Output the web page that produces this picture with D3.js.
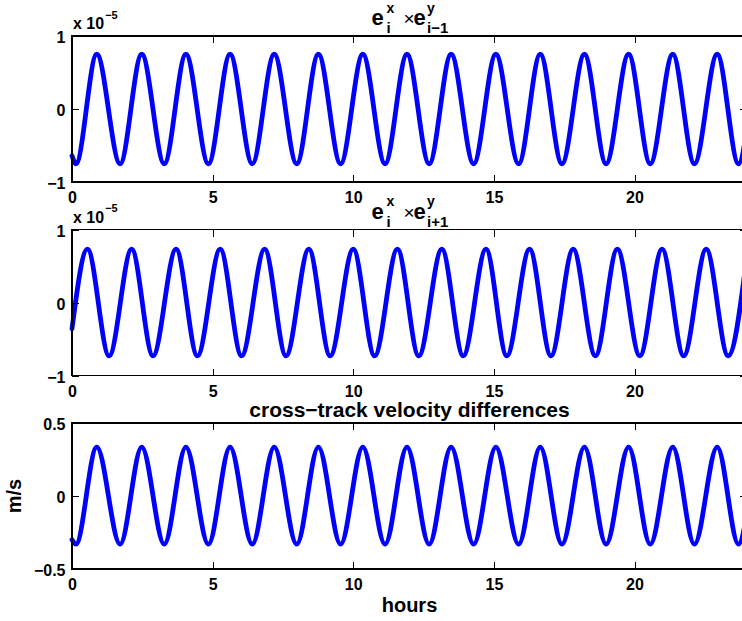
<!DOCTYPE html>
<html>
<head>
<meta charset="utf-8">
<script src="https://cdn.jsdelivr.net/npm/d3@7"></script>
<style>
  body { margin: 0; background: #fff; }
  svg text { font-family: "Liberation Sans", Arial, Helvetica, sans-serif; font-weight: bold; fill: #000; }
</style>
</head>
<body>
<svg id="fig" width="742" height="621"></svg>
<script>
// Turning points (troughs / peaks) of each signal, in hours, with the start and end of the day
const turnTimesA = [0, 0.14, 0.88, 1.71, 2.48, 3.28, 4.05, 4.85, 5.62, 6.41, 7.19, 7.99, 8.76,
  9.55, 10.34, 11.13, 11.91, 12.70, 13.48, 14.28, 15.07, 15.88, 16.65, 17.42, 18.22, 18.99,
  19.79, 20.56, 21.36, 22.13, 22.94, 23.70, 24];
const turnTimesB = [0, 0.55, 1.32, 2.12, 2.88, 3.70, 4.46, 5.27, 6.03, 6.85, 7.61, 8.42, 9.18,
  10.00, 10.76, 11.57, 12.33, 13.15, 13.91, 14.72, 15.46, 16.27, 17.03, 17.82, 18.61, 19.39,
  20.19, 20.98, 21.75, 22.55, 23.33, 24];

// e_i^x x e_{i-1}^y  (units of 1e-5)
const crossPrev = [-0.64, -0.75, 0.75, -0.75, 0.75, -0.75, 0.75, -0.75, 0.75, -0.75, 0.75, -0.75, 0.75,
  -0.75, 0.75, -0.75, 0.75, -0.75, 0.75, -0.75, 0.75, -0.75, 0.75, -0.75, 0.75, -0.75,
  0.75, -0.75, 0.75, -0.75, 0.75, -0.75, -0.27];
// e_i^x x e_{i+1}^y  (units of 1e-5)
const crossNext = [-0.36, 0.73, -0.73, 0.73, -0.73, 0.73, -0.73, 0.73, -0.73, 0.73, -0.73, 0.73, -0.73,
  0.73, -0.73, 0.73, -0.73, 0.73, -0.73, 0.73, -0.73, 0.73, -0.73, 0.73, -0.73, 0.73,
  -0.73, 0.73, -0.73, 0.73, -0.73, 0.65];
// cross-track velocity differences (m/s)
const velDiff = [-0.30, -0.33, 0.335, -0.33, 0.335, -0.33, 0.335, -0.33, 0.335, -0.33, 0.335, -0.33, 0.335,
  -0.33, 0.335, -0.33, 0.335, -0.33, 0.335, -0.33, 0.335, -0.33, 0.335, -0.33, 0.335, -0.33,
  0.335, -0.33, 0.335, -0.33, 0.335, -0.33, -0.12];

const xDomain = [0, 24];
const xTicks = [0, 5, 10, 15, 20];
const yTicksUnit = [-1, 0, 1];
const yTicksVel = [-0.5, 0, 0.5];

const svg = d3.select("#fig");
const left = 72, right = 747, plotH = 146;
const tops = [36, 229.5, 423];
const tickLen = 7;

const x = d3.scaleLinear().domain(xDomain).range([left, right]);
const fmt = d => d3.format("")(d);

const panels = [
  { times: turnTimesA, values: crossPrev, domain: [-1, 1], ticks: yTicksUnit, title: "i\u22121", exp: true },
  { times: turnTimesB, values: crossNext, domain: [-1, 1], ticks: yTicksUnit, title: "i+1", exp: true },
  { times: turnTimesA, values: velDiff, domain: [-0.5, 0.5], ticks: yTicksVel, title: null, exp: false }
];

function drawEqTitle(g, cx, base, sub) {
  const t = g.append("text");
  t.append("tspan").attr("x", cx - 38).attr("y", base).style("font-size", "22px").text("e");
  t.append("tspan").attr("x", cx - 23).attr("y", base - 12.5).style("font-size", "14px").text("x");
  t.append("tspan").attr("x", cx - 23).attr("y", base + 8.3).style("font-size", "15px").text("i");
  t.append("tspan").attr("x", cx - 6).attr("y", base).style("font-size", "19px").style("font-weight", "normal").text("\u00d7");
  t.append("tspan").attr("x", cx + 4).attr("y", base).style("font-size", "22px").text("e");
  t.append("tspan").attr("x", cx + 17.5).attr("y", base - 12.5).style("font-size", "14px").text("y");
  t.append("tspan").attr("x", cx + 17.5).attr("y", base + 8.3).style("font-size", "15px").text(sub);
}

panels.forEach((p, k) => {
  const top = tops[k], bottom = top + plotH;
  const y = d3.scaleLinear().domain(p.domain).range([bottom, top]);
  const g = svg.append("g");

  // data line
  const line = d3.line()
    .x((d, i) => x(p.times[i]))
    .y(d => y(d))
    .curve(d3.curveMonotoneX);
  g.append("path")
    .attr("d", line(p.values))
    .attr("fill", "none")
    .attr("stroke", "#0000ff")
    .attr("stroke-width", 4.8)
    .attr("stroke-linejoin", "round")
    .attr("stroke-linecap", "round");

  // axes with inward ticks on all four sides
  const bottomAxis = d3.axisBottom(x).tickValues(xTicks).tickSizeInner(-tickLen).tickSizeOuter(0).tickPadding(10).tickFormat(fmt);
  const topAxis = d3.axisTop(x).tickValues(xTicks).tickSizeInner(-tickLen).tickSizeOuter(0).tickFormat("");
  const leftAxis = d3.axisLeft(y).tickValues(p.ticks).tickSizeInner(-tickLen).tickSizeOuter(0).tickPadding(6.5).tickFormat(fmt);
  const rightAxis = d3.axisRight(y).tickValues(p.ticks).tickSizeInner(-tickLen).tickSizeOuter(0).tickFormat("");

  const axes = [
    g.append("g").attr("transform", `translate(0,${bottom})`).call(bottomAxis),
    g.append("g").attr("transform", `translate(0,${top})`).call(topAxis),
    g.append("g").attr("transform", `translate(${left},0)`).call(leftAxis),
    g.append("g").attr("transform", `translate(${right},0)`).call(rightAxis)
  ];
  axes.forEach(a => {
    a.select(".domain").remove();
    a.selectAll("line").attr("stroke", "#000").attr("shape-rendering", "crispEdges");
    a.selectAll("text").style("font-size", "16px").attr("fill", "#000");
  });
  axes[2].selectAll("text").attr("dy", "0.42em");

  g.append("rect")
    .attr("x", left).attr("y", top)
    .attr("width", right - left).attr("height", plotH)
    .attr("fill", "none").attr("stroke", "#000").attr("stroke-width", 1.2)
    .attr("shape-rendering", "crispEdges");

  const cx = (left + right) / 2;
  if (p.exp) {
    const e = g.append("text").attr("x", 73).attr("y", top - 6.7).style("font-size", "16px");
    e.append("tspan").text("x 10");
    e.append("tspan").attr("dy", -10.5).attr("dx", 1).style("font-size", "11px").text("\u22125");
  }
  if (p.title) {
    drawEqTitle(g, cx, top - 11, p.title);
  } else {
    g.append("text").attr("x", cx).attr("y", top - 6)
      .attr("text-anchor", "middle").style("font-size", "21px")
      .text("cross\u2212track velocity differences");
  }
});

// axis labels
svg.append("text").attr("x", (left + right) / 2).attr("y", 612)
  .attr("text-anchor", "middle").style("font-size", "20px").text("hours");
svg.append("text")
  .attr("transform", `translate(21,${tops[2] + plotH / 2}) rotate(-90)`)
  .attr("text-anchor", "middle").style("font-size", "20px").text("m/s");
</script>
</body>
</html>
